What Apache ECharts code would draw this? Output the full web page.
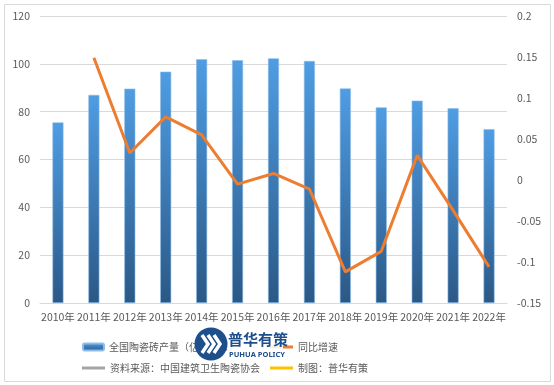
<!DOCTYPE html>
<html><head><meta charset="utf-8">
<script src="https://cdn.jsdelivr.net/npm/echarts@6/dist/echarts.min.js"></script>
<style>html,body{margin:0;padding:0;background:#fff}#c{width:554px;height:385px}</style>
</head><body><div id="c"></div>
<script>
const years = ['2010年','2011年','2012年','2013年','2014年','2015年','2016年','2017年','2018年','2019年','2020年','2021年','2022年'];
const production = [75.5, 87.0, 89.6, 96.7, 101.9, 101.5, 102.3, 101.2, 89.7, 81.8, 84.6, 81.4, 72.7];
const growth = [null, 0.149, 0.033, 0.077, 0.055, -0.005, 0.008, -0.011, -0.112, -0.087, 0.030, -0.037, -0.106];
const leftTicks = {min: 0, max: 120, interval: 20};
const rightTicks = {min: -0.15, max: 0.2, interval: 0.05};
const names = ['全国陶瓷砖产量（亿平方米）', '同比增速', '资料来源：中国建筑卫生陶瓷协会', '制图：普华有策'];

const chart = echarts.init(document.getElementById('c'));
const font = 'Noto Sans CJK SC, Noto Sans, sans-serif';
const txt = {color: '#595959', fontSize: 10.5, fontFamily: font};
const ltxt = {color: '#595959', fontSize: 10, fontFamily: font};
const barGrad = new echarts.graphic.LinearGradient(0, 0, 0, 1, [
  {offset: 0, color: '#4F9DE3'}, {offset: 1, color: '#2B5886'}]);
chart.setOption({
  animation: false,
  textStyle: {fontFamily: font},
  grid: {left: 40, right: 47, top: 16, bottom: 82},
  xAxis: {type: 'category', data: years,
    axisLine: {lineStyle: {color: '#d9d9d9'}}, axisTick: {show: false},
    axisLabel: Object.assign({margin: 9, interval: 0}, txt)},
  yAxis: [
    {type: 'value', min: leftTicks.min, max: leftTicks.max, interval: leftTicks.interval,
     axisLine: {show: false}, axisTick: {show: false},
     splitLine: {lineStyle: {color: '#d9d9d9'}},
     axisLabel: Object.assign({margin: 10}, txt)},
    {type: 'value', min: rightTicks.min, max: rightTicks.max, interval: rightTicks.interval,
     axisLine: {show: false}, axisTick: {show: false}, splitLine: {show: false},
     axisLabel: Object.assign({margin: 10, formatter: v => String(+v.toFixed(2))}, txt)}
  ],
  legend: [
    {left: 77, top: 337, data: [names[0]], itemWidth: 21, itemHeight: 7, textStyle: ltxt, itemGap: 4},
    {left: 265, top: 337, data: [{name: names[1], icon: 'rect'}], itemWidth: 23, itemHeight: 3, textStyle: ltxt},
    {left: 77, top: 358, data: [{name: names[2], icon: 'rect'}], itemWidth: 23, itemHeight: 3, textStyle: ltxt},
    {left: 265, top: 358, data: [{name: names[3], icon: 'rect'}], itemWidth: 23, itemHeight: 3, textStyle: ltxt}
  ],
  series: [
    {name: names[0], type: 'bar', data: production, barWidth: 11,
     itemStyle: {color: barGrad, borderColor: '#8DBCE8', borderWidth: 0.6}},
    {name: names[1], type: 'line', yAxisIndex: 1, data: growth, symbol: 'none',
     lineStyle: {width: 3, color: '#ED7D31'}, itemStyle: {color: '#ED7D31'}},
    {name: names[2], type: 'line', data: [], itemStyle: {color: '#A5A5A5'}},
    {name: names[3], type: 'line', data: [], itemStyle: {color: '#FFC000'}}
  ],
  graphic: [
    {type: 'rect', shape: {x: 4.5, y: 4.5, width: 546, height: 377}, style: {fill: 'none', stroke: '#d9d9d9', lineWidth: 1}, silent: true},
    {type: 'circle', shape: {cx: 211, cy: 344, r: 16.5}, style: {fill: '#1C4F8C'}, z: 100},
    {type: 'polyline', shape: {points: [[202, 335], [208, 344], [202, 353]]}, style: {stroke: '#fff', lineWidth: 3.5, fill: 'none'}, z: 101},
    {type: 'polyline', shape: {points: [[208, 335], [214, 344], [208, 353]]}, style: {stroke: '#fff', lineWidth: 3.5, fill: 'none'}, z: 101},
    {type: 'polyline', shape: {points: [[214, 335], [220, 344], [214, 353]]}, style: {stroke: '#fff', lineWidth: 3.5, fill: 'none'}, z: 101},
    {type: 'rect', shape: {x: 227, y: 331, width: 56, height: 28}, style: {fill: 'rgba(255,255,255,0.85)'}, z: 99},
    {type: 'text', left: 228, top: 332, style: {text: '普华有策', fill: '#1C4F8C', font: 'bold 15px Noto Sans CJK SC'}, z: 101},
    {type: 'text', left: 229, top: 351, style: {text: 'PUHUA POLICY', fill: '#1C4F8C', font: 'bold 7.5px Noto Sans'}, z: 101}
  ]
});
</script></body></html>
